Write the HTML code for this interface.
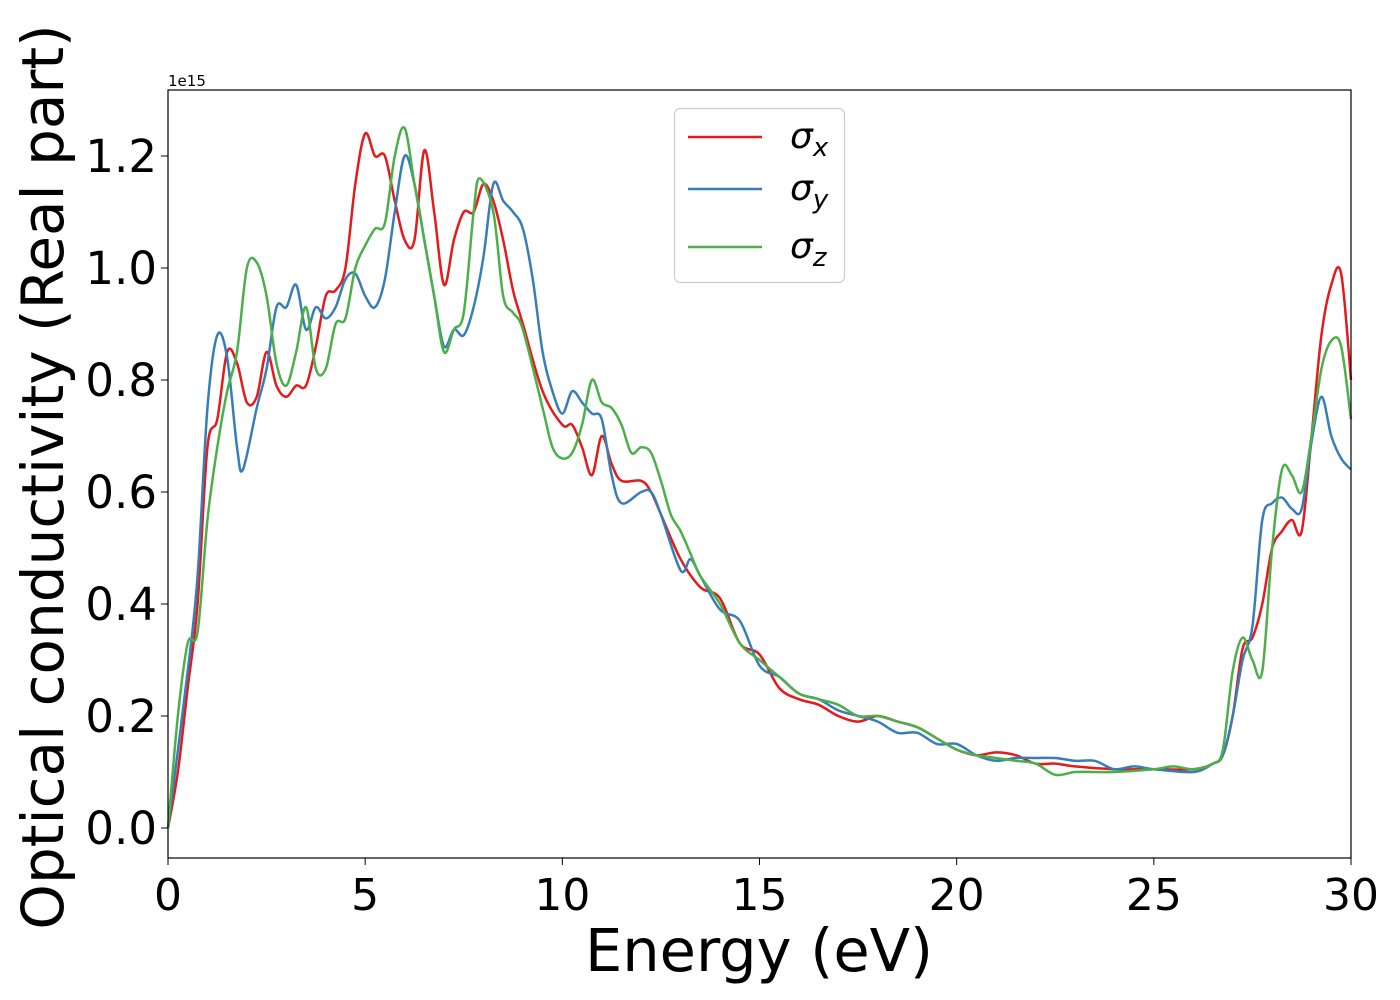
<!DOCTYPE html>
<html><head><meta charset="utf-8"><style>
html,body{margin:0;padding:0;background:#fff;}
svg{display:block;font-family:"DejaVu Sans","Liberation Sans",sans-serif;}
</style></head><body>
<svg id="chart" width="1400" height="1000" viewBox="0 0 1400 1000" xmlns="http://www.w3.org/2000/svg">
<g id="series"></g>
<rect x="168" y="90" width="1183" height="768" fill="none" stroke="#000" stroke-width="1.2"/>
<g id="ticks"></g>
<text x="168" y="86" font-size="15">1e15</text>
<text x="759" y="971" font-size="59" text-anchor="middle">Energy (eV)</text>
<text transform="translate(63,477) rotate(-90)" font-size="58" text-anchor="middle">Optical conductivity (Real part)</text>
<g>
<rect x="674.5" y="108.5" width="170" height="174" rx="6" fill="#fff" fill-opacity="0.8" stroke="#ccc" stroke-width="1.2"/>
<line x1="688" y1="137" x2="762" y2="137" stroke="#e41a1c" stroke-width="2.5"/>
<line x1="688" y1="189" x2="762" y2="189" stroke="#377eb8" stroke-width="2.5"/>
<line x1="688" y1="247" x2="762" y2="247" stroke="#4daf4a" stroke-width="2.5"/>
<text x="790" y="148" font-size="36" font-style="italic">σ<tspan font-size="26" dy="8">x</tspan></text>
<text x="790" y="200" font-size="36" font-style="italic">σ<tspan font-size="26" dy="8">y</tspan></text>
<text x="790" y="258" font-size="36" font-style="italic">σ<tspan font-size="26" dy="8">z</tspan></text>
</g>
</svg>
<script>
const xTicks=[0,5,10,15,20,25,30];
const yTicks=[0.0,0.2,0.4,0.6,0.8,1.0,1.2];
const redX=[0,0.25,0.5,0.75,1,1.25,1.5,1.75,2,2.25,2.5,2.75,3,3.25,3.5,3.75,4,4.25,4.5,4.75,5,5.25,5.5,5.75,6,6.25,6.5,6.75,7,7.25,7.5,7.75,8,8.25,8.5,8.75,9,9.5,10,10.25,10.5,10.75,11,11.25,11.5,12,12.25,12.5,13,13.5,14,14.5,15,15.5,16,16.5,17,17.5,18,18.5,19,19.5,20,20.5,21,21.5,22,22.5,23,24,25,26,26.5,26.75,27,27.25,27.5,27.75,28,28.25,28.5,28.75,29,29.25,29.5,29.75,30];
const redY=[0,0.1,0.25,0.4,0.68,0.73,0.85,0.83,0.76,0.77,0.85,0.79,0.77,0.79,0.79,0.86,0.95,0.96,1.0,1.15,1.24,1.2,1.2,1.12,1.05,1.05,1.21,1.1,0.97,1.05,1.1,1.1,1.15,1.12,1.05,0.96,0.9,0.78,0.72,0.72,0.68,0.63,0.70,0.65,0.62,0.62,0.6,0.56,0.48,0.43,0.41,0.33,0.31,0.25,0.23,0.22,0.2,0.19,0.2,0.19,0.18,0.16,0.14,0.13,0.135,0.13,0.115,0.115,0.11,0.105,0.105,0.105,0.115,0.13,0.2,0.32,0.34,0.4,0.5,0.53,0.55,0.53,0.7,0.88,0.97,0.99,0.8];
const blueX=[0,0.5,0.75,1,1.25,1.5,1.75,1.9,2.25,2.5,2.75,3,3.25,3.5,3.75,4,4.25,4.5,4.75,5,5.25,5.5,5.75,6,6.25,6.5,6.75,7,7.25,7.5,7.75,8,8.25,8.5,8.75,9,9.25,9.5,9.75,10,10.25,10.5,10.75,11,11.25,11.5,12,12.25,12.5,13,13.25,13.5,14,14.5,15,15.5,16,16.5,17,17.5,18,18.5,19,19.5,20,20.5,21,21.5,22,22.5,23,23.5,24,24.5,25,26,26.5,26.75,27,27.25,27.5,27.75,28,28.25,28.5,28.75,29,29.25,29.5,29.75,30];
const blueY=[0,0.28,0.45,0.75,0.88,0.84,0.68,0.64,0.75,0.82,0.93,0.93,0.97,0.89,0.93,0.91,0.93,0.98,0.99,0.95,0.93,0.98,1.1,1.2,1.15,1.05,0.95,0.86,0.89,0.88,0.93,1.02,1.15,1.12,1.1,1.07,0.98,0.85,0.78,0.74,0.78,0.76,0.74,0.73,0.63,0.58,0.6,0.6,0.56,0.46,0.48,0.45,0.39,0.37,0.29,0.27,0.24,0.23,0.21,0.2,0.19,0.17,0.17,0.15,0.15,0.13,0.12,0.125,0.125,0.125,0.12,0.12,0.105,0.11,0.105,0.1,0.115,0.13,0.2,0.3,0.36,0.55,0.58,0.59,0.57,0.57,0.69,0.77,0.7,0.66,0.64];
const greenX=[0,0.25,0.5,0.75,1,1.25,1.5,1.75,2,2.25,2.5,2.75,3,3.25,3.5,3.75,4,4.25,4.5,4.75,5,5.25,5.5,5.75,6,6.25,6.5,6.75,7,7.25,7.5,7.75,7.9,8.25,8.5,8.75,9,9.5,9.75,10,10.25,10.5,10.75,11,11.25,11.5,11.75,12,12.25,12.5,12.75,13,13.25,13.5,14,14.5,15,15.5,16,16.5,17,17.5,18,18.5,19,19.5,20,20.5,21,21.5,22,22.5,23,23.5,24,25,25.5,26,26.5,26.75,27,27.25,27.5,27.75,28,28.25,28.5,28.75,29,29.25,29.5,29.75,30];
const greenY=[0,0.2,0.33,0.35,0.55,0.68,0.78,0.85,1.0,1.01,0.95,0.83,0.79,0.85,0.93,0.82,0.82,0.9,0.91,1.0,1.04,1.07,1.08,1.2,1.25,1.15,1.05,0.95,0.85,0.89,0.92,1.1,1.16,1.1,0.95,0.92,0.89,0.75,0.68,0.66,0.67,0.72,0.8,0.76,0.75,0.72,0.67,0.68,0.67,0.62,0.56,0.53,0.49,0.45,0.4,0.33,0.3,0.27,0.24,0.23,0.22,0.2,0.2,0.19,0.18,0.16,0.14,0.13,0.125,0.12,0.115,0.095,0.1,0.1,0.1,0.105,0.11,0.105,0.115,0.14,0.28,0.34,0.3,0.28,0.5,0.64,0.63,0.6,0.7,0.82,0.87,0.86,0.73];
const NS='http://www.w3.org/2000/svg';
function sx(v){return 168+v*(1183/30);}
function sy(v){return 828-v*560;}
const tg=document.getElementById('ticks');
xTicks.forEach(t=>{
 const l=document.createElementNS(NS,'line');
 
 
 l.setAttribute('x1',sx(t));l.setAttribute('x2',sx(t));l.setAttribute('y1',858);l.setAttribute('y2',865);l.setAttribute('stroke','#000');
 tg.appendChild(l);
 const tx=document.createElementNS(NS,'text');
 
 
 tx.setAttribute('x',sx(t));tx.setAttribute('y',910);tx.setAttribute('font-size','44');tx.setAttribute('text-anchor','middle');
 tx.textContent=t;tg.appendChild(tx);
});
yTicks.forEach(t=>{
 const l=document.createElementNS(NS,'line');
 
 
 l.setAttribute('x1',161);l.setAttribute('x2',168);l.setAttribute('y1',sy(t));l.setAttribute('y2',sy(t));l.setAttribute('stroke','#000');
 tg.appendChild(l);
 const tx=document.createElementNS(NS,'text');
 
 
 tx.setAttribute('x',157);tx.setAttribute('y',sy(t)+16);tx.setAttribute('font-size','45');tx.setAttribute('text-anchor','end');
 tx.textContent=t.toFixed(1);tg.appendChild(tx);
});
function smooth(xs,ys){
 const p=xs.map((x,i)=>[sx(x),sy(ys[i])]);
 let d='M'+p[0][0]+','+p[0][1];
 for(let i=0;i<p.length-1;i++){
  const p0=p[i-1]||p[i],p1=p[i],p2=p[i+1],p3=p[i+2]||p2;
  const c1=[p1[0]+(p2[0]-p0[0])/6,p1[1]+(p2[1]-p0[1])/6];
  const c2=[p2[0]-(p3[0]-p1[0])/6,p2[1]-(p3[1]-p1[1])/6];
  d+=' C'+c1[0]+','+c1[1]+' '+c2[0]+','+c2[1]+' '+p2[0]+','+p2[1];
 }
 return d;
}
const sg=document.getElementById('series');
[[redX,redY,'#e41a1c','series-sigma-x'],[blueX,blueY,'#377eb8','series-sigma-y'],[greenX,greenY,'#4daf4a','series-sigma-z']].forEach(s=>{
 const path=document.createElementNS(NS,'path');
 
 
 path.setAttribute('d',smooth(s[0],s[1]));
 path.setAttribute('fill','none');path.setAttribute('stroke',s[2]);path.setAttribute('stroke-width','2.5');
 sg.appendChild(path);
});
</script>
</body></html>
